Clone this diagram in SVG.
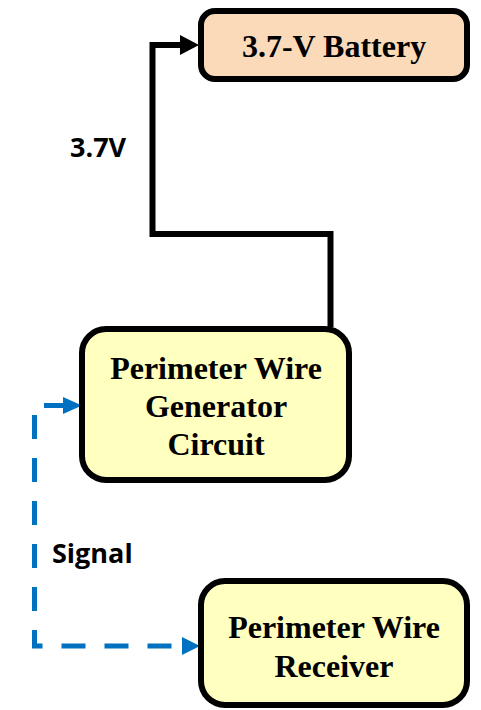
<svg xmlns="http://www.w3.org/2000/svg" width="481" height="710" viewBox="0 0 481 710">
<style>
.box{stroke:#000;stroke-width:6}
.t{font-family:"Liberation Serif","Times New Roman",serif;font-weight:bold;font-size:32px;text-anchor:middle;fill:#000}
.lbl{font-family:"Open Sans","Liberation Sans",sans-serif;font-weight:bold;font-size:27px;fill:#000}
</style>
<rect width="481" height="710" fill="#fff"/>
<g id="connectors">
<path d="M330.5 327 V234 H152.5 V45 H182" fill="none" stroke="#000" stroke-width="6" stroke-linejoin="miter"/>
<polygon points="180,35 199,45 180,55" fill="#000"/>
<path d="M64 405.5 H34.5 V646 H182" fill="none" stroke="#0070C0" stroke-width="5" stroke-dasharray="24 19" stroke-dashoffset="4"/>
<polygon points="63,397 82,405.5 63,414" fill="#0070C0"/>
<polygon points="182,637 200,646 182,655" fill="#0070C0"/>
<text class="lbl" x="70" y="157">3.7V</text>
<text class="lbl" x="52" y="563">Signal</text>
</g>
<g id="battery">
<rect class="box" x="201" y="11" width="266" height="68" rx="14" fill="#FBDABA"/>
<text class="t" x="334" y="57">3.7-V Battery</text>
</g>
<g id="generator">
<rect class="box" x="82" y="329" width="267" height="151" rx="24" fill="#FFFFC0"/>
<text class="t" x="216" y="379">Perimeter Wire</text>
<text class="t" x="216" y="417">Generator</text>
<text class="t" x="216" y="455">Circuit</text>
</g>
<g id="receiver">
<rect class="box" x="201" y="581" width="266" height="124" rx="24" fill="#FFFFC0"/>
<text class="t" x="334" y="638">Perimeter Wire</text>
<text class="t" x="334" y="677">Receiver</text>
</g>
</svg>
